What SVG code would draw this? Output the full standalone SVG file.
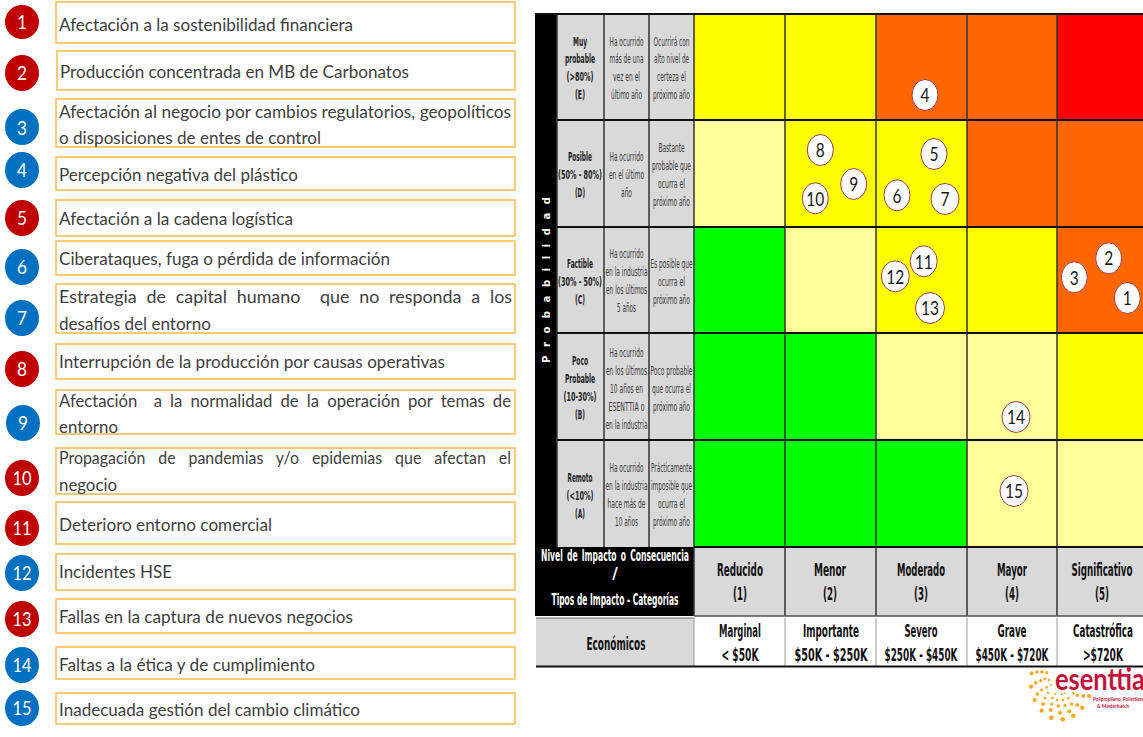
<svg xmlns="http://www.w3.org/2000/svg" width="1143" height="737" viewBox="0 0 1143 737">
<style>
text{font-family:"Lato","Noto Sans",sans-serif}
.box{fill:#fff;stroke:#fdb94f;stroke-width:1.5}
.risk{font-size:18px;fill:#404040;white-space:pre}
.r{fill:#c00000}.b{fill:#0070c0}
.num{font-size:20px;fill:#fff;text-anchor:middle}
.m{fill:#fff;stroke:#a23a4a;stroke-width:1}
.mn{font-size:20px;fill:#1a1a1a;text-anchor:middle}
.g{fill:#d9d9d9}.y{fill:#ffff00}.o{fill:#ff6600}.e{fill:#ff0000}.l{fill:#ffff99}.v{fill:#00ff00}
.t,.tb,.h,.w{font-family:"DejaVu Sans",sans-serif;text-anchor:middle;fill:#222}
.t{font-size:12px;fill:#3a3a3a}
.tb{font-size:12px;font-weight:bold}
.h{font-size:17px;font-weight:bold;fill:#111}
.w{font-size:15px;font-weight:bold;fill:#fff}
.v1{stroke:#333;stroke-width:1.5;fill:none}
.h1{stroke:#111;stroke-width:2;fill:none}
.dot{fill:#f7a81b}
</style>

<g id="risk-1"><rect class="box" x="56" y="2" width="459" height="41"/><circle class="r" cx="22" cy="22" r="17"/><text class="num" x="22" y="29" textLength="10" lengthAdjust="spacingAndGlyphs">1</text><text class="risk" x="59" y="31" textLength="294" lengthAdjust="spacingAndGlyphs">Afectación a la sostenibilidad financiera</text></g>
<g id="risk-2"><rect class="box" x="57" y="51" width="458" height="39"/><ellipse class="r" cx="22" cy="73" rx="17" ry="18"/><text class="num" x="22" y="80" textLength="10" lengthAdjust="spacingAndGlyphs">2</text><text class="risk" x="60" y="78" textLength="349" lengthAdjust="spacingAndGlyphs">Producción concentrada en MB de Carbonatos</text></g>
<g id="risk-3"><rect class="box" x="56" y="99" width="459" height="48"/><ellipse class="b" cx="22" cy="127" rx="17" ry="18"/><text class="num" x="22" y="135" textLength="10" lengthAdjust="spacingAndGlyphs">3</text><text class="risk" x="59" y="118" textLength="452" lengthAdjust="spacingAndGlyphs">Afectación al negocio por cambios regulatorios, geopolíticos</text><text class="risk" x="59" y="144" textLength="262" lengthAdjust="spacingAndGlyphs">o disposiciones de entes de control</text></g>
<g id="risk-4"><rect class="box" x="56" y="157" width="459" height="33"/><ellipse class="b" cx="22" cy="170" rx="17" ry="18"/><text class="num" x="22" y="177" textLength="10" lengthAdjust="spacingAndGlyphs">4</text><text class="risk" x="59" y="181" textLength="239" lengthAdjust="spacingAndGlyphs">Percepción negativa del plástico</text></g>
<g id="risk-5"><rect class="box" x="56" y="200" width="459" height="36"/><ellipse class="r" cx="22" cy="218" rx="17" ry="18"/><text class="num" x="22" y="225" textLength="10" lengthAdjust="spacingAndGlyphs">5</text><text class="risk" x="59" y="225" textLength="234" lengthAdjust="spacingAndGlyphs">Afectación a la cadena logística</text></g>
<g id="risk-6"><rect class="box" x="56" y="241" width="459" height="34"/><ellipse class="b" cx="22" cy="267" rx="17" ry="18"/><text class="num" x="22" y="274" textLength="10" lengthAdjust="spacingAndGlyphs">6</text><text class="risk" x="59" y="265" textLength="331" lengthAdjust="spacingAndGlyphs">Ciberataques, fuga o pérdida de información</text></g>
<g id="risk-7"><rect class="box" x="56" y="284" width="459" height="49"/><ellipse class="b" cx="22" cy="318" rx="17" ry="18"/><text class="num" x="22" y="325" textLength="10" lengthAdjust="spacingAndGlyphs">7</text><text class="risk" x="59" y="303" textLength="453" lengthAdjust="spacingAndGlyphs" word-spacing="5.300">Estrategia de capital humano  que no responda a los</text><text class="risk" x="59" y="330" textLength="152" lengthAdjust="spacingAndGlyphs">desafíos del entorno</text></g>
<g id="risk-8"><rect class="box" x="56" y="344" width="459" height="35"/><ellipse class="r" cx="22" cy="369" rx="17" ry="18"/><text class="num" x="22" y="376" textLength="10" lengthAdjust="spacingAndGlyphs">8</text><text class="risk" x="59" y="368" textLength="386" lengthAdjust="spacingAndGlyphs">Interrupción de la producción por causas operativas</text></g>
<g id="risk-9"><rect class="box" x="56" y="390" width="459" height="44"/><ellipse class="b" cx="23" cy="423" rx="17" ry="18"/><text class="num" x="23" y="430" textLength="10" lengthAdjust="spacingAndGlyphs">9</text><text class="risk" x="59" y="407" textLength="452" lengthAdjust="spacingAndGlyphs" word-spacing="4.200">Afectación  a la normalidad de la operación por temas de</text><text class="risk" x="59" y="433" textLength="59" lengthAdjust="spacingAndGlyphs">entorno</text></g>
<g id="risk-10"><rect class="box" x="56" y="448" width="459" height="46"/><ellipse class="r" cx="22" cy="478" rx="17" ry="18"/><text class="num" x="22" y="485" textLength="19" lengthAdjust="spacingAndGlyphs">10</text><text class="risk" x="59" y="464" textLength="452" lengthAdjust="spacingAndGlyphs" word-spacing="10">Propagación de pandemias y/o epidemias que afectan el</text><text class="risk" x="59" y="491" textLength="58" lengthAdjust="spacingAndGlyphs">negocio</text></g>
<g id="risk-11"><rect class="box" x="56" y="502" width="459" height="42"/><ellipse class="r" cx="22" cy="528" rx="17" ry="18"/><text class="num" x="22" y="535" textLength="19" lengthAdjust="spacingAndGlyphs">11</text><text class="risk" x="59" y="531" textLength="213" lengthAdjust="spacingAndGlyphs">Deterioro entorno comercial</text></g>
<g id="risk-12"><rect class="box" x="56" y="554" width="459" height="36"/><ellipse class="b" cx="22" cy="573" rx="17" ry="18"/><text class="num" x="22" y="580" textLength="19" lengthAdjust="spacingAndGlyphs">12</text><text class="risk" x="59" y="578" textLength="113" lengthAdjust="spacingAndGlyphs">Incidentes HSE</text></g>
<g id="risk-13"><rect class="box" x="56" y="599" width="459" height="34"/><ellipse class="r" cx="22" cy="619" rx="17" ry="18"/><text class="num" x="22" y="626" textLength="19" lengthAdjust="spacingAndGlyphs">13</text><text class="risk" x="59" y="623" textLength="294" lengthAdjust="spacingAndGlyphs">Fallas en la captura de nuevos negocios</text></g>
<g id="risk-14"><rect class="box" x="56" y="647" width="459" height="32"/><ellipse class="b" cx="22" cy="665" rx="17" ry="18"/><text class="num" x="22" y="672" textLength="19" lengthAdjust="spacingAndGlyphs">14</text><text class="risk" x="59" y="671" textLength="256" lengthAdjust="spacingAndGlyphs">Faltas a la ética y de cumplimiento</text></g>
<g id="risk-15"><rect class="box" x="56" y="693" width="459" height="31"/><ellipse class="b" cx="22" cy="708" rx="17" ry="18"/><text class="num" x="22" y="715" textLength="19" lengthAdjust="spacingAndGlyphs">15</text><text class="risk" x="59" y="716" textLength="301" lengthAdjust="spacingAndGlyphs">Inadecuada gestión del cambio climático</text></g>

<g id="matrix-cells">
<rect x="535" y="14" width="22" height="533" fill="#000"/>
<rect class="g" x="557" y="14" width="137" height="533"/>
<rect class="y" x="694" y="14" width="91" height="106"/><rect class="y" x="785" y="14" width="91" height="106"/><rect class="o" x="876" y="14" width="91" height="106"/><rect class="o" x="967" y="14" width="90" height="106"/><rect class="e" x="1057" y="14" width="86" height="106"/>
<rect class="l" x="694" y="120" width="91" height="107"/><rect class="y" x="785" y="120" width="91" height="107"/><rect class="y" x="876" y="120" width="91" height="107"/><rect class="o" x="967" y="120" width="90" height="107"/><rect class="o" x="1057" y="120" width="86" height="107"/>
<rect class="v" x="694" y="227" width="91" height="106"/><rect class="l" x="785" y="227" width="91" height="106"/><rect class="y" x="876" y="227" width="91" height="106"/><rect class="y" x="967" y="227" width="90" height="106"/><rect class="o" x="1057" y="227" width="86" height="106"/>
<rect class="v" x="694" y="333" width="91" height="107"/><rect class="v" x="785" y="333" width="91" height="107"/><rect class="l" x="876" y="333" width="91" height="107"/><rect class="l" x="967" y="333" width="90" height="107"/><rect class="y" x="1057" y="333" width="86" height="107"/>
<rect class="v" x="694" y="440" width="91" height="107"/><rect class="v" x="785" y="440" width="91" height="107"/><rect class="v" x="876" y="440" width="91" height="107"/><rect class="l" x="967" y="440" width="90" height="107"/><rect class="l" x="1057" y="440" width="86" height="107"/>
<rect x="535" y="547" width="159" height="69" fill="#000"/>
<rect class="g" x="694" y="547" width="449" height="69"/>
<rect class="g" x="536" y="618" width="158" height="48"/>
<rect x="694" y="618" width="449" height="48" fill="#fff"/>
</g>

<g id="connectors">
<path class="v1" d="M604 14V547M649 14V547M694 14V616M785 14V616M876 14V616M967 14V616M1057 14V616"/>
<path class="v1" d="M557 14V547"/>
<path class="h1" d="M535 14H1143M557 120H1143M557 227H1143M557 333H1143M557 440H1143M694 547H1143"/>
<path d="M694 616H1143" stroke="#555" stroke-width="1.5" fill="none"/>
<path d="M536 618H694" stroke="#666" stroke-width="1" fill="none"/>
<path d="M785 618V666M876 618V666M967 618V666M1057 618V666M694 618V666" stroke="#999" stroke-width="1" fill="none"/>
<path class="h1" d="M536 666.500H1143"/>
</g>

<g id="row-labels">
<text class="w" transform="translate(549.500 363) rotate(-90)" style="text-anchor:start;font-size:10px" textLength="166" lengthAdjust="spacing">Probabilidad</text>
<text class="tb" x="580" y="46" textLength="14" lengthAdjust="spacingAndGlyphs">Muy</text><text class="tb" x="580" y="63" textLength="30" lengthAdjust="spacingAndGlyphs">probable</text><text class="tb" x="580" y="81" textLength="27" lengthAdjust="spacingAndGlyphs">(&gt;80%)</text><text class="tb" x="580" y="99" textLength="10" lengthAdjust="spacingAndGlyphs">(E)</text>
<text class="t" x="626.500" y="46" textLength="34" lengthAdjust="spacingAndGlyphs">Ha ocurrido</text><text class="t" x="626.500" y="63" textLength="34" lengthAdjust="spacingAndGlyphs">más de una</text><text class="t" x="626.500" y="81" textLength="27" lengthAdjust="spacingAndGlyphs">vez en el</text><text class="t" x="626.500" y="99" textLength="31" lengthAdjust="spacingAndGlyphs">último año</text>
<text class="t" x="671.500" y="46" textLength="36" lengthAdjust="spacingAndGlyphs">Ocurrirá con</text><text class="t" x="671.500" y="63" textLength="35" lengthAdjust="spacingAndGlyphs">alto nivel de</text><text class="t" x="671.500" y="81" textLength="29" lengthAdjust="spacingAndGlyphs">certeza el</text><text class="t" x="671.500" y="99" textLength="37" lengthAdjust="spacingAndGlyphs">próximo año</text>

<text class="tb" x="580" y="161" textLength="24" lengthAdjust="spacingAndGlyphs">Posible</text><text class="tb" x="580" y="179" textLength="44" lengthAdjust="spacingAndGlyphs">(50% - 80%)</text><text class="tb" x="580" y="197" textLength="10" lengthAdjust="spacingAndGlyphs">(D)</text>
<text class="t" x="626.500" y="161" textLength="34" lengthAdjust="spacingAndGlyphs">Ha ocurrido</text><text class="t" x="626.500" y="179" textLength="35" lengthAdjust="spacingAndGlyphs">en el último</text><text class="t" x="626.500" y="197" textLength="11" lengthAdjust="spacingAndGlyphs">año</text>
<text class="t" x="671.500" y="152" textLength="26" lengthAdjust="spacingAndGlyphs">Bastante</text><text class="t" x="671.500" y="170" textLength="39" lengthAdjust="spacingAndGlyphs">probable que</text><text class="t" x="671.500" y="188" textLength="27" lengthAdjust="spacingAndGlyphs">ocurra el</text><text class="t" x="671.500" y="206" textLength="37" lengthAdjust="spacingAndGlyphs">próximo año</text>

<text class="tb" x="580" y="268" textLength="26" lengthAdjust="spacingAndGlyphs">Factible</text><text class="tb" x="580" y="286" textLength="44" lengthAdjust="spacingAndGlyphs">(30% - 50%)</text><text class="tb" x="580" y="304" textLength="10" lengthAdjust="spacingAndGlyphs">(C)</text>
<text class="t" x="626.500" y="258" textLength="34" lengthAdjust="spacingAndGlyphs">Ha ocurrido</text><text class="t" x="626.500" y="276" textLength="42" lengthAdjust="spacingAndGlyphs">en la industria</text><text class="t" x="626.500" y="294" textLength="41" lengthAdjust="spacingAndGlyphs">en los últimos</text><text class="t" x="626.500" y="312" textLength="19" lengthAdjust="spacingAndGlyphs">5 años</text>
<text class="t" x="671.500" y="268" textLength="42" lengthAdjust="spacingAndGlyphs">Es posible que</text><text class="t" x="671.500" y="286" textLength="27" lengthAdjust="spacingAndGlyphs">ocurra el</text><text class="t" x="671.500" y="304" textLength="37" lengthAdjust="spacingAndGlyphs">próximo año</text>

<text class="tb" x="580" y="365" textLength="16" lengthAdjust="spacingAndGlyphs">Poco</text><text class="tb" x="580" y="383" textLength="30" lengthAdjust="spacingAndGlyphs">Probable</text><text class="tb" x="580" y="401" textLength="33" lengthAdjust="spacingAndGlyphs">(10-30%)</text><text class="tb" x="580" y="419" textLength="10" lengthAdjust="spacingAndGlyphs">(B)</text>
<text class="t" x="626.500" y="357" textLength="34" lengthAdjust="spacingAndGlyphs">Ha ocurrido</text><text class="t" x="626.500" y="375" textLength="41" lengthAdjust="spacingAndGlyphs">en los últimos</text><text class="t" x="626.500" y="393" textLength="33" lengthAdjust="spacingAndGlyphs">10 años en</text><text class="t" x="626.500" y="411" textLength="36" lengthAdjust="spacingAndGlyphs">ESENTTIA o</text><text class="t" x="626.500" y="429" textLength="42" lengthAdjust="spacingAndGlyphs">en la industria</text>
<text class="t" x="671.500" y="375" textLength="42" lengthAdjust="spacingAndGlyphs">Poco probable</text><text class="t" x="671.500" y="393" textLength="39" lengthAdjust="spacingAndGlyphs">que ocurra el</text><text class="t" x="671.500" y="411" textLength="37" lengthAdjust="spacingAndGlyphs">próximo año</text>

<text class="tb" x="580" y="482" textLength="25" lengthAdjust="spacingAndGlyphs">Remoto</text><text class="tb" x="580" y="500" textLength="27" lengthAdjust="spacingAndGlyphs">(&lt;10%)</text><text class="tb" x="580" y="518" textLength="10" lengthAdjust="spacingAndGlyphs">(A)</text>
<text class="t" x="626.500" y="472" textLength="34" lengthAdjust="spacingAndGlyphs">Ha ocurrido</text><text class="t" x="626.500" y="490" textLength="42" lengthAdjust="spacingAndGlyphs">en la industria</text><text class="t" x="626.500" y="508" textLength="38" lengthAdjust="spacingAndGlyphs">hace más de</text><text class="t" x="626.500" y="526" textLength="23" lengthAdjust="spacingAndGlyphs">10 años</text>
<text class="t" x="671.500" y="472" textLength="41" lengthAdjust="spacingAndGlyphs">Prácticamente</text><text class="t" x="671.500" y="490" textLength="41" lengthAdjust="spacingAndGlyphs">imposible que</text><text class="t" x="671.500" y="508" textLength="27" lengthAdjust="spacingAndGlyphs">ocurra el</text><text class="t" x="671.500" y="526" textLength="37" lengthAdjust="spacingAndGlyphs">próximo año</text>
</g>

<g id="column-labels">
<text class="w" x="615" y="561" textLength="148" lengthAdjust="spacingAndGlyphs" word-spacing="3">Nivel de Impacto o Consecuencia</text>
<text class="w" x="615" y="579">/</text>
<text class="w" x="615" y="605" textLength="127" lengthAdjust="spacingAndGlyphs">Tipos de Impacto - Categorías</text>
<text class="h" x="740" y="576" textLength="46" lengthAdjust="spacingAndGlyphs">Reducido</text><text class="h" x="740" y="600" textLength="14" lengthAdjust="spacingAndGlyphs">(1)</text>
<text class="h" x="830" y="576" textLength="32" lengthAdjust="spacingAndGlyphs">Menor</text><text class="h" x="830" y="600" textLength="14" lengthAdjust="spacingAndGlyphs">(2)</text>
<text class="h" x="921" y="576" textLength="48" lengthAdjust="spacingAndGlyphs">Moderado</text><text class="h" x="921" y="600" textLength="14" lengthAdjust="spacingAndGlyphs">(3)</text>
<text class="h" x="1012" y="576" textLength="30" lengthAdjust="spacingAndGlyphs">Mayor</text><text class="h" x="1012" y="600" textLength="14" lengthAdjust="spacingAndGlyphs">(4)</text>
<text class="h" x="1102" y="576" textLength="61" lengthAdjust="spacingAndGlyphs">Significativo</text><text class="h" x="1102" y="600" textLength="14" lengthAdjust="spacingAndGlyphs">(5)</text>
<text class="h" x="616" y="650" textLength="59" lengthAdjust="spacingAndGlyphs">Económicos</text>
<text class="h" x="740" y="637" textLength="42" lengthAdjust="spacingAndGlyphs">Marginal</text><text class="h" x="740" y="661" textLength="37" lengthAdjust="spacingAndGlyphs">&lt; $50K</text>
<text class="h" x="831" y="637" textLength="56" lengthAdjust="spacingAndGlyphs">Importante</text><text class="h" x="831" y="661" textLength="73" lengthAdjust="spacingAndGlyphs">$50K - $250K</text>
<text class="h" x="921" y="637" textLength="33" lengthAdjust="spacingAndGlyphs">Severo</text><text class="h" x="921" y="661" textLength="73" lengthAdjust="spacingAndGlyphs">$250K - $450K</text>
<text class="h" x="1012" y="637" textLength="29" lengthAdjust="spacingAndGlyphs">Grave</text><text class="h" x="1012" y="661" textLength="73" lengthAdjust="spacingAndGlyphs">$450K - $720K</text>
<text class="h" x="1103" y="637" textLength="60" lengthAdjust="spacingAndGlyphs">Catastrófica</text><text class="h" x="1103" y="661" textLength="40" lengthAdjust="spacingAndGlyphs">&gt;$720K</text>
</g>

<g id="marker-1"><ellipse class="m" cx="1127.300" cy="298" rx="13" ry="15.500"/><text class="mn" x="1127.300" y="305" textLength="9" lengthAdjust="spacingAndGlyphs">1</text></g>
<g id="marker-2"><ellipse class="m" cx="1108.700" cy="258.300" rx="13" ry="15.500"/><text class="mn" x="1108.700" y="265" textLength="9" lengthAdjust="spacingAndGlyphs">2</text></g>
<g id="marker-3"><ellipse class="m" cx="1074.300" cy="277.300" rx="13" ry="15.500"/><text class="mn" x="1074.300" y="284.500" textLength="9" lengthAdjust="spacingAndGlyphs">3</text></g>
<g id="marker-4"><ellipse class="m" cx="925" cy="95" rx="13" ry="15.500"/><text class="mn" x="925" y="102" textLength="9" lengthAdjust="spacingAndGlyphs">4</text></g>
<g id="marker-5"><ellipse class="m" cx="934" cy="154" rx="13" ry="15.500"/><text class="mn" x="934" y="161" textLength="9" lengthAdjust="spacingAndGlyphs">5</text></g>
<g id="marker-6"><ellipse class="m" cx="897" cy="195.300" rx="13" ry="15.500"/><text class="mn" x="897" y="202.500" textLength="9" lengthAdjust="spacingAndGlyphs">6</text></g>
<g id="marker-7"><ellipse class="m" cx="945" cy="199" rx="14" ry="15.500"/><text class="mn" x="945" y="206" textLength="9" lengthAdjust="spacingAndGlyphs">7</text></g>
<g id="marker-8"><ellipse class="m" cx="820.300" cy="150" rx="13" ry="15.500"/><text class="mn" x="820.300" y="157" textLength="9" lengthAdjust="spacingAndGlyphs">8</text></g>
<g id="marker-9"><ellipse class="m" cx="853.700" cy="184" rx="13" ry="15.500"/><text class="mn" x="853.700" y="191" textLength="9" lengthAdjust="spacingAndGlyphs">9</text></g>
<g id="marker-10"><ellipse class="m" cx="815.300" cy="198.300" rx="13" ry="15.500"/><text class="mn" x="815.300" y="205.500" textLength="18" lengthAdjust="spacingAndGlyphs">10</text></g>
<g id="marker-11"><ellipse class="m" cx="923.700" cy="261.300" rx="13.500" ry="15.500"/><text class="mn" x="923.700" y="268.500" textLength="18" lengthAdjust="spacingAndGlyphs">11</text></g>
<g id="marker-12"><ellipse class="m" cx="895.300" cy="276.300" rx="14" ry="15.500"/><text class="mn" x="895.300" y="283.500" textLength="18" lengthAdjust="spacingAndGlyphs">12</text></g>
<g id="marker-13"><ellipse class="m" cx="930" cy="308" rx="14.500" ry="15.500"/><text class="mn" x="930" y="315" textLength="18" lengthAdjust="spacingAndGlyphs">13</text></g>
<g id="marker-14"><ellipse class="m" cx="1016" cy="417" rx="14" ry="15.500"/><text class="mn" x="1016" y="424" textLength="18" lengthAdjust="spacingAndGlyphs">14</text></g>
<g id="marker-15"><ellipse class="m" cx="1014" cy="491" rx="14" ry="15.500"/><text class="mn" x="1014" y="498" textLength="18" lengthAdjust="spacingAndGlyphs">15</text></g>

<g id="logo">
<g class="dot">
<circle cx="1031.700" cy="673.300" r="2"/><circle cx="1037" cy="672" r="1.800"/><circle cx="1042" cy="672" r="1.800"/><circle cx="1046.700" cy="672.700" r="1.600"/><circle cx="1031" cy="686.700" r="2.100"/><circle cx="1035.700" cy="682.700" r="1.800"/><circle cx="1040.700" cy="680.700" r="1.600"/><circle cx="1045" cy="679" r="1.400"/><circle cx="1049" cy="680" r="1.200"/><circle cx="1034.700" cy="700" r="2.100"/><circle cx="1037.300" cy="694" r="1.800"/><circle cx="1041.700" cy="690" r="1.600"/><circle cx="1046.700" cy="687.300" r="1.300"/><circle cx="1051" cy="685" r="1"/><circle cx="1043" cy="704" r="1.900"/><circle cx="1045" cy="698" r="1.600"/><circle cx="1048" cy="693" r="1.200"/><circle cx="1051.700" cy="704" r="1.600"/><circle cx="1052.300" cy="698" r="1.300"/><circle cx="1055" cy="694" r="1"/><circle cx="1041.700" cy="710.700" r="2.100"/><circle cx="1050.700" cy="710" r="2"/><circle cx="1051.300" cy="717.700" r="2.300"/><circle cx="1062.700" cy="719.300" r="2.300"/><circle cx="1060" cy="712.700" r="2"/><circle cx="1058.300" cy="706" r="1.700"/><circle cx="1057.300" cy="700" r="1.300"/><circle cx="1063" cy="700" r="1.300"/><circle cx="1065" cy="705.700" r="1.600"/><circle cx="1069.300" cy="711.300" r="2"/><circle cx="1073.300" cy="715.700" r="2.300"/><circle cx="1068.300" cy="698.300" r="1.300"/><circle cx="1073.300" cy="693.300" r="1.400"/><circle cx="1071.700" cy="704" r="1.700"/><circle cx="1077.300" cy="705" r="1.900"/><circle cx="1082.300" cy="707.700" r="2.200"/><circle cx="1077.300" cy="695.300" r="1.800"/><circle cx="1083.300" cy="696" r="2"/><circle cx="1089" cy="696" r="2.100"/><circle cx="1061.700" cy="694" r="1"/><circle cx="1065" cy="693.300" r="0.900"/>
</g>
<text x="1055" y="689.500" font-size="31" font-weight="700" textLength="90" lengthAdjust="spacingAndGlyphs" fill="#c4143c">esenttia</text>
<text x="1093" y="701" font-size="6" font-weight="bold" textLength="52" lengthAdjust="spacingAndGlyphs" fill="#c4143c">Polipropileno, Polietileno</text>
<text x="1113" y="708" font-size="6" font-weight="bold" text-anchor="middle" textLength="32" lengthAdjust="spacingAndGlyphs" fill="#c4143c">&amp; Masterbatch</text>
</g>
</svg>
